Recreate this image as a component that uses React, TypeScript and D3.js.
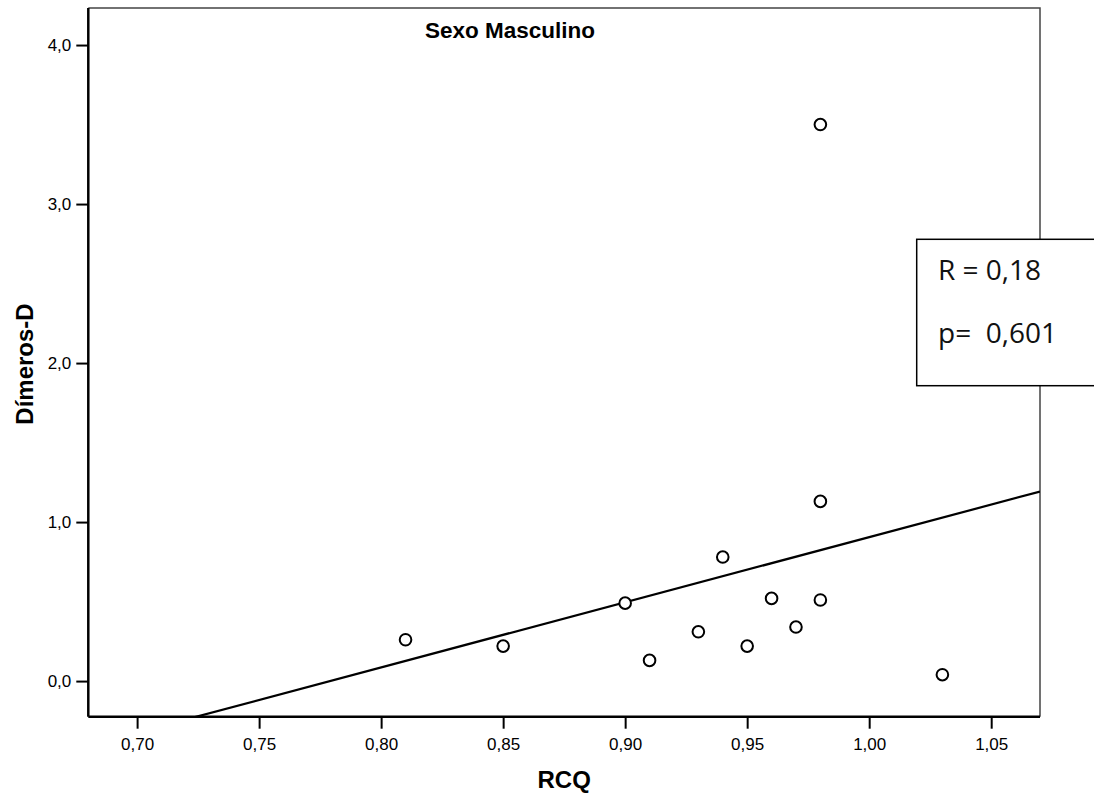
import * as d3 from "d3";
import React, { useEffect, useRef } from "react";

// RCQ (x) and Dímeros-D (y) for each patient
const rcq = [0.81, 0.85, 0.9, 0.91, 0.93, 0.94, 0.95, 0.96, 0.97, 0.98, 0.98, 0.98, 1.03];
const dimeros = [0.26, 0.22, 0.49, 0.13, 0.31, 0.78, 0.22, 0.52, 0.34, 3.5, 1.13, 0.51, 0.04];

const xTicks = [0.7, 0.75, 0.8, 0.85, 0.9, 0.95, 1.0, 1.05];
const yTicks = [0, 1, 2, 3, 4];

const title = "Sexo Masculino";
const xLabel = "RCQ";
const yLabel = "Dímeros-D";
const statLines = ["R = 0,18", "p=  0,601"];

const App = () => {
  const svgRef = useRef<SVGSVGElement>(null);

  useEffect(() => {
    const svg = d3.select(svgRef.current);
    svg.selectAll("*").remove();

    const W = 1094;
    const H = 798;
    const left = 88.3;
    const right = 1040;
    const top = 8;
    const bottom = 716.7;

    svg.attr("width", W).attr("height", H);

    const x = d3.scaleLinear().domain([0.68, 1.07]).range([left, right]);
    const y = d3.scaleLinear().domain([-0.224, 4.233]).range([bottom, top]);

    const fmt = (d: number, n: number) => d.toFixed(n).replace(".", ",");

    // clip for regression line
    svg
      .append("defs")
      .append("clipPath")
      .attr("id", "plotClip")
      .append("rect")
      .attr("x", left)
      .attr("y", top)
      .attr("width", right - left)
      .attr("height", bottom - top);

    // frame top + right (thin grey)
    svg
      .append("path")
      .attr("d", `M${left},${top}H${right}V${bottom}`)
      .attr("fill", "none")
      .attr("stroke", "#444")
      .attr("stroke-width", 1.5);

    // least squares fit
    const mx = d3.mean(rcq)!;
    const my = d3.mean(dimeros)!;
    let sxy = 0;
    let sxx = 0;
    rcq.forEach((v, i) => {
      sxy += (v - mx) * (dimeros[i] - my);
      sxx += (v - mx) * (v - mx);
    });
    const slope = sxy / sxx;
    const intercept = my - slope * mx;
    const [x0, x1] = x.domain();

    svg
      .append("line")
      .attr("clip-path", "url(#plotClip)")
      .attr("x1", x(x0))
      .attr("y1", y(intercept + slope * x0))
      .attr("x2", x(x1))
      .attr("y2", y(intercept + slope * x1))
      .attr("stroke", "#000")
      .attr("stroke-width", 2.2);

    // points
    svg
      .append("g")
      .selectAll("circle")
      .data(rcq.map((v, i) => [v, dimeros[i]]))
      .join("circle")
      .attr("cx", (d) => x(d[0]))
      .attr("cy", (d) => y(d[1]))
      .attr("r", 5.8)
      .attr("fill", "#fff")
      .attr("stroke", "#000")
      .attr("stroke-width", 2);

    // axes
    const xAxis = svg
      .append("g")
      .attr("transform", `translate(0,${bottom})`)
      .call(
        d3
          .axisBottom(x)
          .tickValues(xTicks)
          .tickSize(12)
          .tickPadding(9)
          .tickFormat((d) => fmt(d as number, 2))
      );
    const yAxis = svg
      .append("g")
      .attr("transform", `translate(${left},0)`)
      .call(
        d3
          .axisLeft(y)
          .tickValues(yTicks)
          .tickSize(12)
          .tickPadding(5)
          .tickFormat((d) => fmt(d as number, 1))
      );

    [xAxis, yAxis].forEach((a) => {
      a.select(".domain").attr("stroke", "#000").attr("stroke-width", 2.5);
      a.selectAll(".tick line").attr("stroke", "#000").attr("stroke-width", 2);
      a.selectAll(".tick text")
        .attr("fill", "#000")
        .style("font-family", "'Liberation Sans', Arial, sans-serif")
        .style("font-size", "17px");
    });
    // keep the domain flat, no outer ticks
    xAxis.select(".domain").attr("d", `M${left},0H${right}`);
    yAxis.select(".domain").attr("d", `M0,${top}V${bottom}`);

    // title + axis labels
    svg
      .append("text")
      .attr("x", 510)
      .attr("y", 38)
      .attr("text-anchor", "middle")
      .style("font-family", "'Liberation Sans', Arial, sans-serif")
      .style("font-weight", "bold")
      .style("font-size", "22.5px")
      .text(title);

    svg
      .append("text")
      .attr("x", (left + right) / 2)
      .attr("y", 788)
      .attr("text-anchor", "middle")
      .style("font-family", "'Liberation Sans', Arial, sans-serif")
      .style("font-weight", "bold")
      .style("font-size", "24px")
      .text(xLabel);

    svg
      .append("text")
      .attr("transform", `translate(33,364) rotate(-90)`)
      .attr("text-anchor", "middle")
      .style("font-family", "'Liberation Sans', Arial, sans-serif")
      .style("font-weight", "bold")
      .style("font-size", "24px")
      .text(yLabel);

    // stats box
    const box = svg.append("g");
    box
      .append("rect")
      .attr("x", 916.7)
      .attr("y", 239.3)
      .attr("width", 200)
      .attr("height", 146.4)
      .attr("fill", "#fff")
      .attr("stroke", "#000")
      .attr("stroke-width", 1.5);
    box
      .selectAll("text")
      .data(statLines)
      .join("text")
      .attr("x", 938)
      .attr("y", (d, i) => 280 + i * 63)
      .style("font-family", "'Open Sans', sans-serif")
      .style("font-size", "28px")
      .style("white-space", "pre")
      .attr("fill", "#111")
      .text((d) => d);
  }, []);

  return (
    <svg
      ref={svgRef}
      style={{ position: "absolute", left: 0, top: 0, background: "#fff" }}
    ></svg>
  );
};

export default App;
